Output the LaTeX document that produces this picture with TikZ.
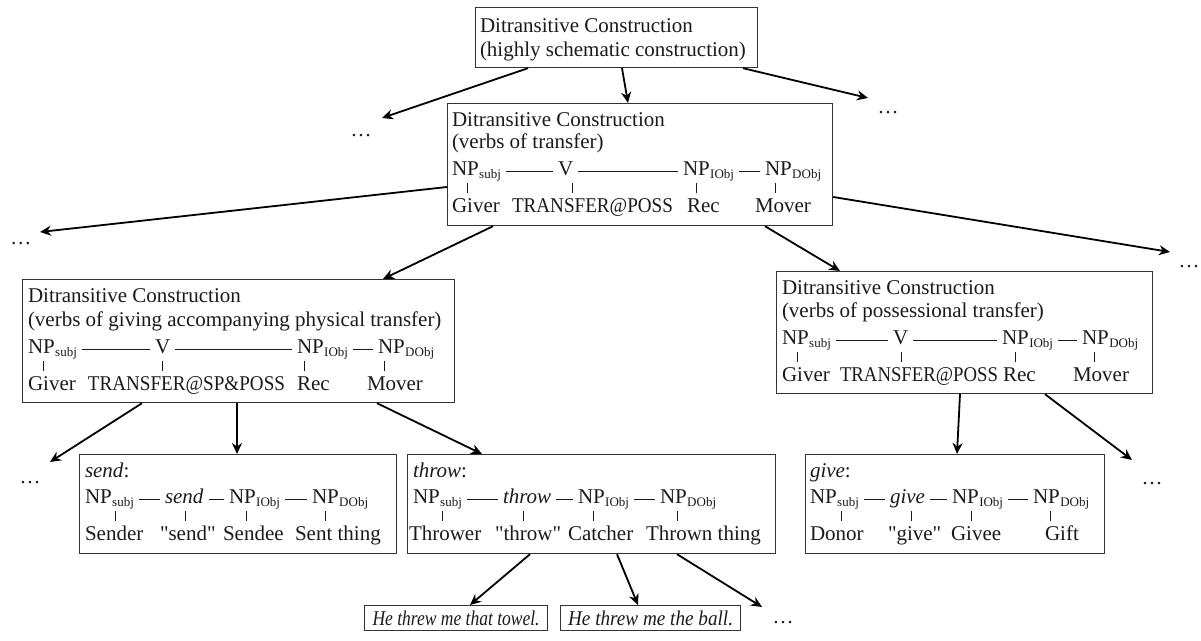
\documentclass[tikz,border=0pt]{standalone}
\usepackage{fontspec}
\setmainfont{Liberation Serif}
\newfontfamily\plainfont{Liberation Serif}
\usetikzlibrary{arrows.meta,calc}
\definecolor{ink}{HTML}{1A1A1A}
\definecolor{framecol}{HTML}{333333}
% schema slot with a small, slightly lowered subscript
\newcommand\np[1]{NP\kern0.2pt\raisebox{-1.1pt}{\fontsize{6.5}{7}\selectfont #1}}
% straight double quotes
\newcommand\sq[1]{{\plainfont"}#1{\plainfont"}}
% squeeze a text to a given width, keeping its height
\newcommand\fitto[2]{\resizebox{#1}{\height}{#2}}
% a framed box given by its top-left corner, width and height (in px units)
\newcommand\frameat[5]{\node[frame, minimum width=#4*0.5pt, minimum height=#5*0.5pt] (#1) at (#2,#3) {};}
% rule joining two neighbouring items of a schema row
\newcommand\dashlink[2]{\draw[link] ($(#1.base east)+(5,-5)$) -- ($(#2.base west)+(-5,-5)$);}
% short vertical stroke below a schema item, row baseline #2
\newcommand\tickat[2]{\draw[link] (#1,#2+7) -- (#1,#2+17);}
\begin{document}
\begin{tikzpicture}[x=0.5pt,y=-0.5pt,
  every node/.style={font=\fontsize{10.5}{12.5}\selectfont, text=ink},
  txt/.style={anchor=base west, inner sep=0pt, outer sep=0pt},
  frame/.style={draw=framecol, line width=0.6pt, anchor=north west, inner sep=0pt},
  arr/.style={-{Stealth[length=5.5pt,width=5pt]}, line width=0.9pt, draw=black},
  link/.style={draw=ink, line width=0.45pt},
  more/.style={anchor=base, inner sep=0pt}]
\useasboundingbox (0,0) rectangle (1201,641);

% ---- top: highly schematic construction
\frameat{top}{475}{7}{282}{60}
\node[txt] (top1) at (480,33) {Ditransitive Construction};
\node[txt] (top2) at (480,57) {(highly schematic construction)};

% ---- verbs of transfer
\frameat{mid}{447}{103}{385}{122}
\node[txt] (mid1) at (452,127) {Ditransitive Construction};
\node[txt] (mid2) at (452,149) {(verbs of transfer)};
\node[txt] (midA) at (452,176) {\np{subj}};
\node[txt] (midB) at (558,176) {V};
\node[txt] (midC) at (683,176) {\np{IObj}};
\node[txt] (midD) at (765,176) {\np{DObj}};
\dashlink{midA}{midB}\dashlink{midB}{midC}\dashlink{midC}{midD}
\tickat{467}{176}\tickat{572}{176}\tickat{696}{176}\tickat{775}{176}
\node[txt] (midGa) at (452,213) {Giver};
\node[txt] (midGb) at (512,213) {\fitto{80.5pt}{TRANSFER@POSS}};
\node[txt] (midGc) at (687,213) {Rec};
\node[txt] (midGd) at (755,213) {Mover};

% ---- verbs of giving accompanying physical transfer
\frameat{phys}{22}{279}{432}{123}
\node[txt] (phys1) at (28,303) {Ditransitive Construction};
\node[txt] (phys2) at (28,327) {(verbs of giving accompanying physical transfer)};
\node[txt] (physA) at (28,354) {\np{subj}};
\node[txt] (physB) at (155,354) {V};
\node[txt] (physC) at (297,354) {\np{IObj}};
\node[txt] (physD) at (378,354) {\np{DObj}};
\dashlink{physA}{physB}\dashlink{physB}{physC}\dashlink{physC}{physD}
\tickat{43}{354}\tickat{162}{354}\tickat{304}{354}\tickat{384}{354}
\node[txt] (physGa) at (28,391) {Giver};
\node[txt] (physGb) at (88,391) {\fitto{98.5pt}{TRANSFER@SP\&POSS}};
\node[txt] (physGc) at (297,391) {Rec};
\node[txt] (physGd) at (367,391) {Mover};

% ---- verbs of possessional transfer
\frameat{poss}{776}{271}{376}{122}
\node[txt] (poss1) at (782,295) {Ditransitive Construction};
\node[txt] (poss2) at (782,318) {(verbs of possessional transfer)};
\node[txt] (possA) at (782,345) {\np{subj}};
\node[txt] (possB) at (893,345) {V};
\node[txt] (possC) at (1002,345) {\np{IObj}};
\node[txt] (possD) at (1082,345) {\np{DObj}};
\dashlink{possA}{possB}\dashlink{possB}{possC}\dashlink{possC}{possD}
\tickat{797}{345}\tickat{901}{345}\tickat{1015}{345}\tickat{1094}{345}
\node[txt] (possGa) at (782,382) {Giver};
\node[txt] (possGb) at (840,382) {\fitto{79pt}{TRANSFER@POSS}};
\node[txt] (possGc) at (1003,382) {Rec};
\node[txt] (possGd) at (1073,382) {Mover};

% ---- send
\frameat{send}{79}{454}{317}{99}
\node[txt] (send0) at (85,478) {\textit{send}:};
\node[txt] (sendA) at (85,504) {\np{subj}};
\node[txt] (sendB) at (165,504) {\textit{send}};
\node[txt] (sendC) at (229,504) {\np{IObj}};
\node[txt] (sendD) at (312,504) {\np{DObj}};
\dashlink{sendA}{sendB}\dashlink{sendB}{sendC}\dashlink{sendC}{sendD}
\tickat{115}{504}\tickat{185}{504}\tickat{246}{504}\tickat{325}{504}
\node[txt] (sendGa) at (85,541) {Sender};
\node[txt] (sendGb) at (160,541) {\sq{send}};
\node[txt] (sendGc) at (223,541) {Sendee};
\node[txt] (sendGd) at (295,541) {Sent thing};

% ---- throw
\frameat{throw}{407}{454}{368}{99}
\node[txt] (throw0) at (413,478) {\textit{throw}:};
\node[txt] (throwA) at (413,504) {\np{subj}};
\node[txt] (throwB) at (503,504) {\textit{throw}};
\node[txt] (throwC) at (578,504) {\np{IObj}};
\node[txt] (throwD) at (660,504) {\np{DObj}};
\dashlink{throwA}{throwB}\dashlink{throwB}{throwC}\dashlink{throwC}{throwD}
\tickat{442}{504}\tickat{523}{504}\tickat{593}{504}\tickat{677}{504}
\node[txt] (throwGa) at (409,541) {Thrower};
\node[txt] (throwGb) at (495,541) {\sq{throw}};
\node[txt] (throwGc) at (568,541) {Catcher};
\node[txt] (throwGd) at (646,541) {Thrown thing};

% ---- give
\frameat{give}{805}{454}{299}{99}
\node[txt] (give0) at (810,478) {\textit{give}:};
\node[txt] (giveA) at (810,504) {\np{subj}};
\node[txt] (giveB) at (890,504) {\textit{give}};
\node[txt] (giveC) at (952,504) {\np{IObj}};
\node[txt] (giveD) at (1033,504) {\np{DObj}};
\dashlink{giveA}{giveB}\dashlink{giveB}{giveC}\dashlink{giveC}{giveD}
\tickat{841}{504}\tickat{911}{504}\tickat{971}{504}\tickat{1050}{504}
\node[txt] (giveGa) at (810,541) {Donor};
\node[txt] (giveGb) at (888,541) {\sq{give}};
\node[txt] (giveGc) at (951,541) {Givee};
\node[txt] (giveGd) at (1045,541) {Gift};

% ---- example sentences
\node[frame, minimum width=91.5pt, minimum height=12.5pt] (ex1) at (364,605) {\fitto{83.5pt}{\textit{He threw me that towel.}}};
\node[frame, minimum width=90pt, minimum height=12.5pt] (ex2) at (560,605) {\fitto{82.5pt}{\textit{He threw me the ball.}}};

% ---- open-ended siblings
\node[more] (d1) at (361,137) {\ldots};
\node[more] (d2) at (888,114) {\ldots};
\node[more] (d3) at (21,245) {\ldots};
\node[more] (d4) at (1189,268) {\ldots};
\node[more] (d5) at (30,484) {\ldots};
\node[more] (d6) at (1152,485) {\ldots};
\node[more] (d7) at (783,624) {\ldots};
\coordinate (d1tip) at (382,118);
\coordinate (d2tip) at (868,98);
\coordinate (d3tip) at (40,232);
\coordinate (d4tip) at (1170,252);
\coordinate (d5tip) at (50,462);
\coordinate (d6tip) at (1132,460);
\coordinate (d7tip) at (762,607);

% ---- inheritance arrows
\draw[arr] ($(top.south west)+(53,0)$) -- (d1tip);
\draw[arr] ($(top.south west)+(147,0)$) -- ($(mid.north west)+(181,0)$);
\draw[arr] ($(top.south west)+(268,0)$) -- (d2tip);
\draw[arr] ($(mid.north west)+(0,84)$) -- (d3tip);
\draw[arr] ($(mid.south west)+(46,0)$) -- ($(phys.north west)+(361,0)$);
\draw[arr] ($(mid.south west)+(318,0)$) -- ($(poss.north west)+(64,0)$);
\draw[arr] ($(mid.north east)+(0,94)$) -- (d4tip);
\draw[arr] ($(phys.south west)+(120,0)$) -- (d5tip);
\draw[arr] ($(phys.south west)+(215,0)$) -- ($(send.north west)+(158,0)$);
\draw[arr] ($(phys.south west)+(355,0)$) -- ($(throw.north west)+(75,0)$);
\draw[arr] ($(poss.south west)+(184,0)$) -- ($(give.north west)+(152,0)$);
\draw[arr] ($(poss.south west)+(269,0)$) -- (d6tip);
\draw[arr] ($(throw.south west)+(123,0)$) -- ($(ex1.north west)+(106,0)$);
\draw[arr] ($(throw.south west)+(210,0)$) -- ($(ex2.north west)+(78,0)$);
\draw[arr] ($(throw.south west)+(270,0)$) -- (d7tip);
\end{tikzpicture}
\end{document}
